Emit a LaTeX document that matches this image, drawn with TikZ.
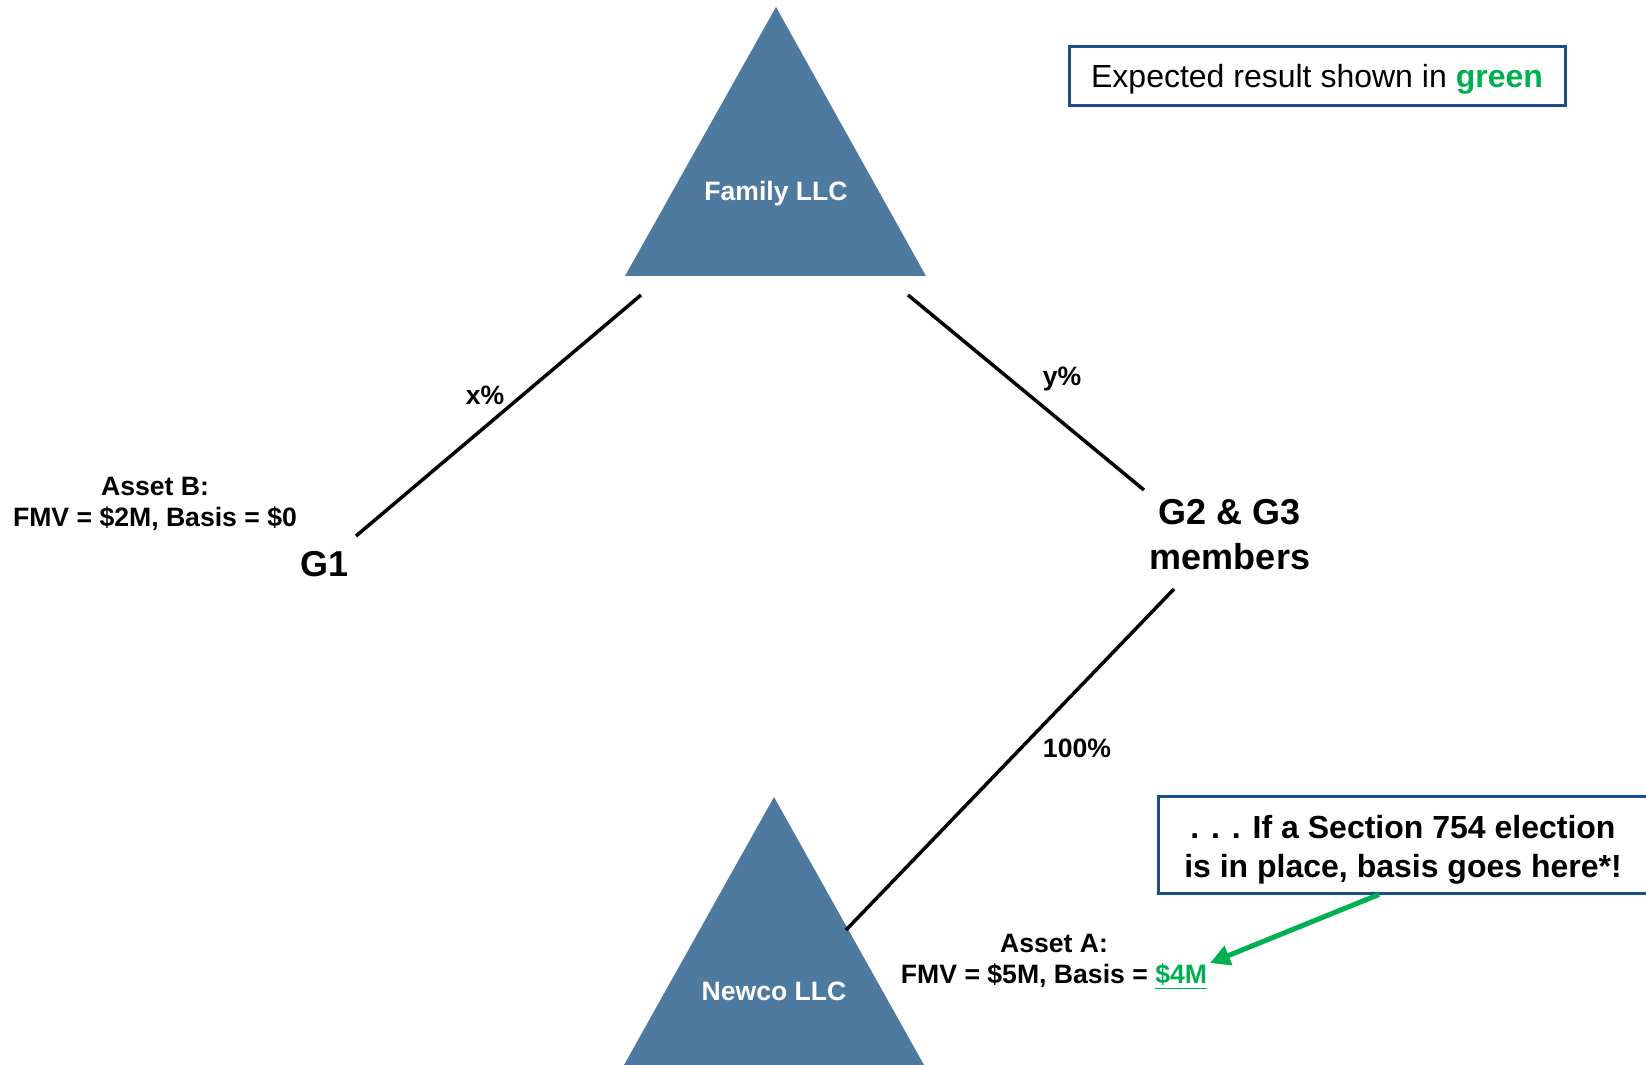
\documentclass[tikz,border=0pt]{standalone}
\usepackage{fontspec}
\setmainfont{Liberation Sans}
\usepackage{tikz}
\usetikzlibrary{arrows.meta,positioning}
\definecolor{llcblue}{HTML}{4E7AA0}
\definecolor{boxblue}{HTML}{1B4F8A}
\definecolor{resgreen}{HTML}{00B050}

\tikzset{
	small/.style={font=\bfseries\fontsize{13.3}{15.5}\selectfont, align=center},
	big/.style={font=\bfseries\fontsize{18}{22.5}\selectfont, align=center},
	llc/.style={fill=llcblue},
	llctext/.style={text=white, font=\bfseries\fontsize{13.3}{15.5}\selectfont},
	own/.style={line width=1.75pt, draw=black},
	notebox/.style={draw=boxblue, line width=1.5pt, inner sep=0pt, align=center}
}

\begin{document}
\begin{tikzpicture}[x=0.5pt, y=-0.5pt]
	\useasboundingbox (0,0) rectangle (1646,1065);
	% entities
	\fill [llc] (776,7) -- (926,276) -- (625,276) -- cycle;
	\fill [llc] (774,797) -- (924,1065) -- (624,1065) -- cycle;
	\node [llctext] (family) at (776,194) {Family LLC};
	\node [llctext] (newco) at (774,991) {Newco LLC};
	\node [big] (g1) at (325,564) {G1};
	\node [big] (g23) at (1230,535) {G2 \& G3\\members};
	% assets
	\node [small] (assetB) at (155,504) {Asset B:\\FMV = \$2M, Basis = \$0};
	\node [small] (assetA) at (1054,962) {Asset A:\\FMV = \$5M, Basis = \textcolor{resgreen}{\underline{\$4M}}};
	% ownership lines
	\coordinate (famL) at (641,295);
	\coordinate (famR) at (908,295);
	\coordinate (g1top) at (356,536);
	\coordinate (g23top) at (1144,490);
	\coordinate (g23bot) at (1174,589);
	\coordinate (newcoR) at (846,930);
	\draw [own] (famL) -- (g1top);
	\draw [own] (famR) -- (g23top);
	\draw [own] (g23bot) -- (newcoR);
	\node [small] (xpct) at (485,395) {x\%};
	\node [small] (ypct) at (1062,379) {y\%};
	\node [small] (hpct) at (1077,748) {100\%};
	% notes
	\node [notebox, minimum width=248pt, minimum height=29.5pt, font=\fontsize{16}{19}\selectfont] (expect) at (1317,76.5) {\raisebox{-1.6pt}[\height][\depth]{Expected result shown in \textcolor{resgreen}{\textbf{green}}}};
	\node [notebox, minimum width=245pt, minimum height=48.5pt, font=\bfseries\fontsize{16}{19.5}\selectfont] (sec) at (1403,844.5) {\raisebox{-2.6pt}[\height][\depth]{\begin{tabular}{@{}c@{}}. . . If a Section 754 election\\is in place, basis goes here*!\end{tabular}}};
	\coordinate (tip) at (1210,963);
	\draw [-{Triangle[length=10pt,width=10pt]}, line width=2.5pt, resgreen] ([xshift=-12pt]sec.south) -- (tip);
\end{tikzpicture}
\end{document}
